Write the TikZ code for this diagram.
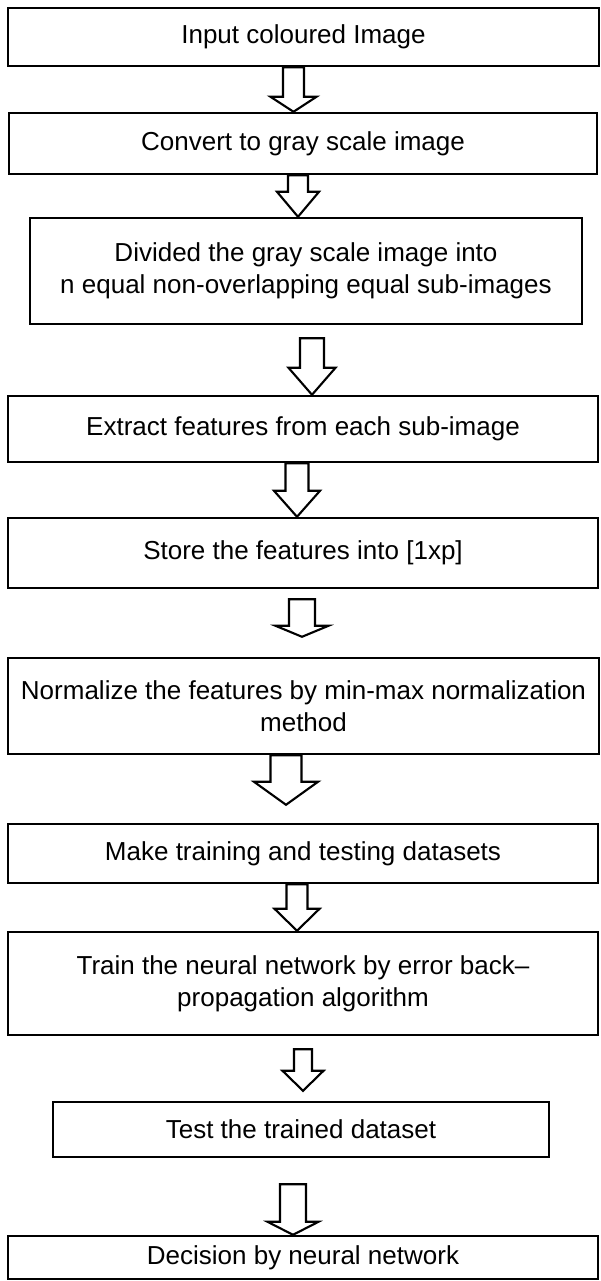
\documentclass[tikz,border=0pt]{standalone}
\usepackage{fontspec}
\setmainfont{Liberation Sans}
\usetikzlibrary{calc,positioning}

\tikzset{
  stage/.style={draw, line width=1.4pt, inner sep=0pt, align=center,
    font=\fontsize{14.8}{18.2}\selectfont},
  hollowarrow/.style={draw, line width=1.2pt, line join=miter}
}

% #1 from, #2 to, #3 x, #4 top gap, #5 tip gap, #6 shaft, #7 head, #8 head length
\newcommand{\blockarrow}[8]{%
  \path (#3,0 |- #1.south) ++(0,#4) coordinate (top)
        (#3,0 |- #2.north) ++(0,-#5) coordinate (tip);
  \draw[hollowarrow] ($(top)+(-#6/2,0)$) -- ($(tip)+(-#6/2,-#8)$) -- ($(tip)+(-#7/2,-#8)$) -- (tip)
    -- ($(tip)+(#7/2,-#8)$) -- ($(tip)+(#6/2,-#8)$) -- ($(top)+(#6/2,0)$) -- cycle;
}

\begin{document}
\begin{tikzpicture}[x=0.02cm, y=-0.02cm]
\useasboundingbox (0,0) rectangle (601,1281);

\node[stage, minimum width=11.82cm, minimum height=1.16cm] (input) at (303.5,37) {Input coloured Image};
\node[stage, minimum width=11.76cm, minimum height=1.22cm] (gray) at (303,143.5) {Convert to gray scale image};
\node[stage, minimum width=11.04cm, minimum height=2.12cm] (divide) at (306,271) {Divided the gray scale image into\\n equal non-overlapping equal sub-images};
\node[stage, minimum width=11.8cm, minimum height=1.32cm] (extract) at (303,429) {Extract features from each sub-image};
\node[stage, minimum width=11.8cm, minimum height=1.4cm] (store) at (303,553) {Store the features into [1xp]};
\node[stage, minimum width=11.82cm, minimum height=1.92cm] (normal) at (303.5,706) {Normalize the features by min-max normalization\\method};
\node[stage, minimum width=11.8cm, minimum height=1.18cm] (sets) at (303,853.5) {Make training and testing datasets};
\node[stage, minimum width=11.8cm, minimum height=2.06cm] (train) at (303,983.5) {Train the neural network by error back–\\propagation algorithm};
\node[stage, minimum width=9.92cm, minimum height=1.1cm] (test) at (301,1129.5) {Test the trained dataset};
\node[stage, minimum width=11.8cm, minimum height=0.86cm] (decide) at (303,1257.5) {Decision by neural network};

\blockarrow{input}{gray}{293.5}{0}{0}{21}{46}{15}
\blockarrow{gray}{divide}{298}{0}{0}{20}{42}{25}
\blockarrow{divide}{extract}{312}{13}{0}{24}{47}{27}
\blockarrow{extract}{store}{297}{0}{0}{23}{46}{26}
\blockarrow{store}{normal}{302}{10}{20}{26}{53}{11}
\blockarrow{normal}{sets}{286}{0}{18}{31}{64}{23}
\blockarrow{sets}{train}{297}{0}{0}{21}{45}{22}
\blockarrow{train}{test}{303}{13}{10}{18}{41}{20}
\blockarrow{test}{decide}{293}{26}{0}{26}{51}{13}
\end{tikzpicture}
\end{document}
